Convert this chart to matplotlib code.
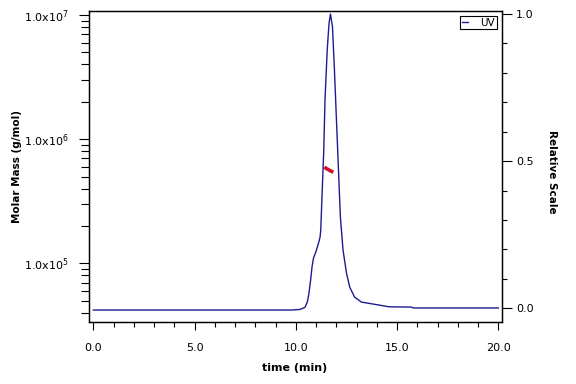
import numpy as np
import matplotlib
matplotlib.use("Agg")
import matplotlib.pyplot as plt
from matplotlib.ticker import FixedLocator, MultipleLocator, LogLocator, NullFormatter, FuncFormatter

plt.rcParams['font.family'] = ['DejaVu Sans']

# UV trace (relative scale)
uvTime = [0.0, 9.8, 10.2, 10.45, 10.57, 10.65, 10.73, 10.8, 10.87, 10.99, 11.12, 11.2, 11.23,
          11.31, 11.38, 11.44, 11.55, 11.64, 11.71, 11.81, 11.9, 12.0, 12.1, 12.2, 12.33,
          12.5, 12.66, 12.9, 13.24, 14.1, 14.6, 15.7, 15.8, 20.0]
uvValue = [-0.006, -0.006, -0.004, 0.003, 0.022, 0.052, 0.096, 0.141, 0.170, 0.192, 0.221, 0.243, 0.266,
           0.412, 0.538, 0.708, 0.878, 0.969, 1.0, 0.956, 0.820, 0.650, 0.480, 0.310, 0.198,
           0.120, 0.072, 0.038, 0.021, 0.011, 0.005, 0.004, 0.001, 0.001]

# molar mass points (g/mol)
mmTime = [11.41, 11.46, 11.51, 11.56, 11.61, 11.66, 11.71, 11.76, 11.81, 11.85]
mmValue = [5.96e5, 5.88e5, 5.80e5, 5.74e5, 5.68e5, 5.62e5, 5.56e5, 5.51e5, 5.46e5, 5.42e5]

xTicks = [0, 5, 10, 15, 20]
relTicks = [0.0, 0.5, 1.0]

uvColor = '#1c1c8e'
mmColor = '#d0102a'

fig = plt.figure(figsize=(5.76, 3.84), dpi=100)
ax = fig.add_axes([0.155, 0.1615, 0.7165, 0.8105])
ax2 = ax.twinx()

uvLine, = ax2.plot(uvTime, uvValue, color=uvColor, lw=1.0, label='UV')
ax.plot(mmTime, mmValue, color=mmColor, lw=2.6, solid_capstyle='butt')

# molar mass on top of the UV trace
ax.set_zorder(ax2.get_zorder() + 1)
ax.patch.set_visible(False)

ax.set_xlim(-0.2, 20.18)
ax.set_yscale('log')
ax.set_ylim(10**4.527, 10**7.035)
ax2.set_ylim(-0.0466, 1.011)

ax.xaxis.set_major_locator(FixedLocator(xTicks))
ax.xaxis.set_minor_locator(MultipleLocator(1))
ax.xaxis.set_major_formatter(FuncFormatter(lambda v, p: f"{v:.1f}"))

ax.yaxis.set_major_locator(LogLocator(base=10, numticks=10))
ax.yaxis.set_minor_locator(LogLocator(base=10, subs=np.arange(2, 10), numticks=20))
ax.yaxis.set_minor_formatter(NullFormatter())
ax.yaxis.set_major_formatter(FuncFormatter(lambda v, p: r"1.0x10$^{%d}$" % round(np.log10(v))))

ax2.yaxis.set_major_locator(FixedLocator(relTicks))
ax2.yaxis.set_minor_locator(MultipleLocator(0.1))
ax2.yaxis.set_major_formatter(FuncFormatter(lambda v, p: f"{v:.1f}"))

for a in (ax, ax2):
    for s in a.spines.values():
        s.set_linewidth(0.9)

ax.tick_params(axis='x', which='major', length=6, width=0.8, labelsize=8, pad=9)
ax.tick_params(axis='x', which='minor', length=3.5, width=0.8)
ax.tick_params(axis='y', which='major', length=7, width=0.8, labelsize=8, pad=8)
ax.tick_params(axis='y', which='minor', length=6, width=0.8)
ax2.tick_params(axis='y', which='major', length=7, width=0.8, labelsize=8, pad=3)
ax2.tick_params(axis='y', which='minor', length=3.5, width=0.8)

ax.set_xlabel('time (min)', fontsize=8, fontweight='bold', va='center')
ax.xaxis.set_label_coords(0.497, -0.148)
ax.set_ylabel('Molar Mass (g/mol)', fontsize=7.5, fontweight='bold', va='center')
ax.yaxis.set_label_coords(-0.175, 0.5)
ax2.set_ylabel('Relative Scale', fontsize=7.5, fontweight='bold', rotation=270, va='center', ha='center')
ax2.yaxis.set_label_coords(1.121, 0.482)

leg = ax.legend(handles=[uvLine], loc='upper right', fontsize=7.5, frameon=True, fancybox=False,
                edgecolor='black', framealpha=1, handlelength=0.6, handletextpad=1.2,
                borderpad=0.15, borderaxespad=0.5)
leg.get_frame().set_linewidth(0.8)

fig.savefig('out.png', dpi=100)
